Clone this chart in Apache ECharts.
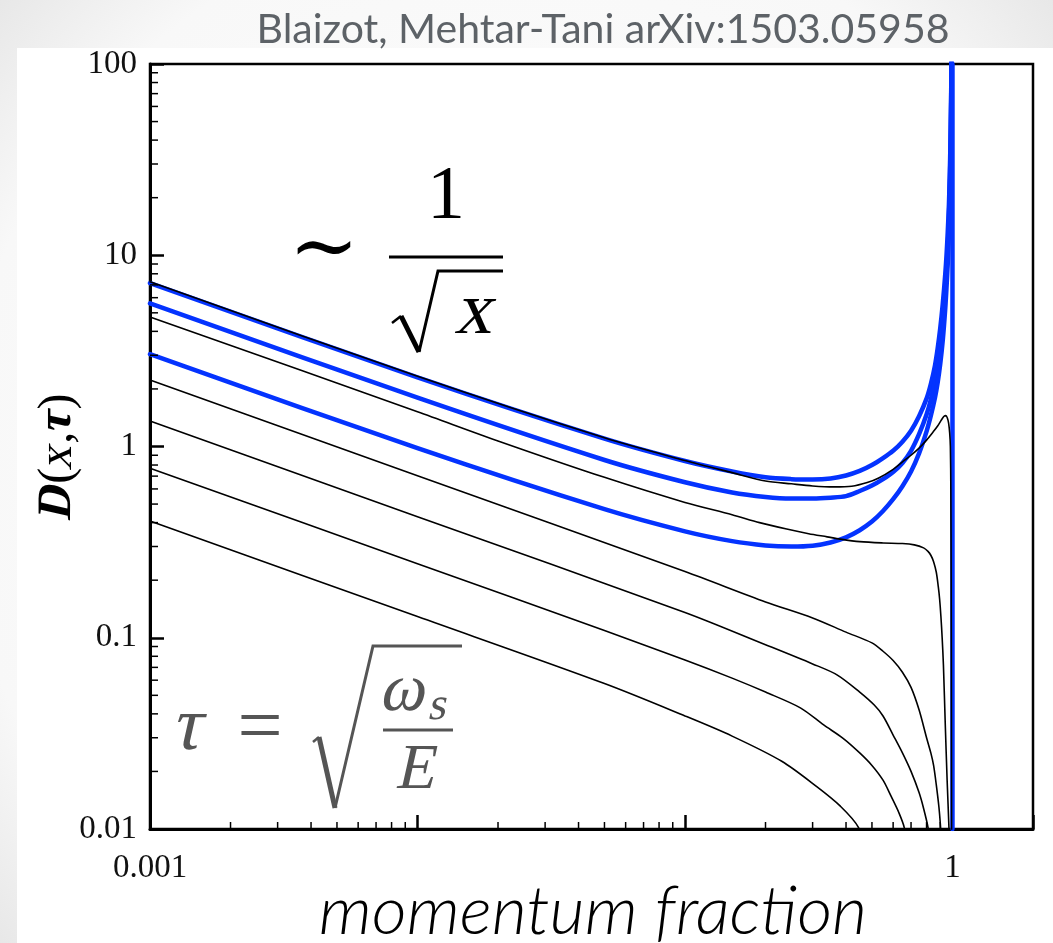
<!DOCTYPE html>
<html>
<head>
<meta charset="utf-8">
<script src="https://cdn.jsdelivr.net/npm/echarts@6/dist/echarts.min.js"></script>
<style>
  html, body { margin: 0; padding: 0; background: #ffffff; }
  #chart { width: 1053px; height: 943px; }
</style>
</head>
<body>
<div id="chart"></div>
<script>
// Fragmentation distributions D(x, tau) versus momentum fraction x.
// Blue curves (thick)
const blueX = [0.001, 0.01, 0.05, 0.1, 0.15, 0.2, 0.25, 0.3, 0.35, 0.4, 0.45, 0.5, 0.55, 0.6, 0.65, 0.7, 0.75, 0.8, 0.83, 0.86, 0.88, 0.9, 0.92, 0.94, 0.95, 0.96, 0.97, 0.975, 0.98, 0.985, 0.99, 0.993, 0.996];
const blue1Y = [7.15, 2.3, 1.1, 0.84, 0.74, 0.69, 0.675, 0.672, 0.68, 0.705, 0.745, 0.8, 0.87, 0.95, 1.06, 1.21, 1.44, 1.78, 2.12, 2.65, 3.25, 4.15, 5.6, 8.0, 10, 13.2, 18.5, 24, 32, 47, 82, 135, 290];
const blue2Y = [5.6, 1.8, 0.85, 0.65, 0.575, 0.545, 0.535, 0.535, 0.54, 0.55, 0.585, 0.625, 0.675, 0.735, 0.82, 0.95, 1.16, 1.47, 1.76, 2.2, 2.62, 3.3, 4.4, 6.4, 8.1, 10.8, 15.8, 20.5, 27.5, 41, 78, 130, 285];
const blue3Y = [3.04, 0.98, 0.47, 0.36, 0.32, 0.304, 0.3, 0.303, 0.315, 0.335, 0.365, 0.405, 0.46, 0.53, 0.62, 0.74, 0.92, 1.2, 1.45, 1.8, 2.15, 2.7, 3.6, 5.3, 6.8, 9.0, 13, 17, 23.5, 36, 70, 120, 260];

// Vertical blue line at x = 1
const spikeX = [1, 1];
const spikeY = [0.01, 100];

// Black curves (thin)
const black1X = [0.001, 0.01, 0.05, 0.1, 0.15, 0.2, 0.25, 0.3, 0.36, 0.42, 0.48, 0.53, 0.6, 0.65, 0.7, 0.75, 0.8, 0.85, 0.88, 0.91, 0.93, 0.945, 0.958, 0.967, 0.976, 0.982, 0.986, 0.989, 0.991, 0.993];
const black1Y = [7.26, 2.33, 1.11, 0.845, 0.73, 0.66, 0.638, 0.622, 0.615, 0.62, 0.648, 0.685, 0.76, 0.83, 0.9, 0.98, 1.08, 1.2, 1.28, 1.38, 1.44, 1.45, 1.4, 1.33, 1.18, 1.0, 0.6, 0.2, 0.04, 0.005];

const black2X = [0.001, 0.01, 0.02, 0.05, 0.1, 0.15, 0.19, 0.24, 0.29, 0.34, 0.38, 0.45, 0.55, 0.65, 0.72, 0.78, 0.81, 0.83, 0.85, 0.87, 0.885, 0.895, 0.905, 0.915, 0.925, 0.94, 0.955, 0.97, 0.985];
const black2Y = [4.76, 1.52, 1.07, 0.69, 0.51, 0.44, 0.4, 0.37, 0.35, 0.337, 0.328, 0.318, 0.313, 0.311, 0.306, 0.295, 0.283, 0.27, 0.25, 0.22, 0.185, 0.16, 0.13, 0.1, 0.072, 0.035, 0.018, 0.0102, 0.005];

const black3X = [0.001, 0.01, 0.1, 0.2, 0.3, 0.4, 0.5, 0.55, 0.6, 0.65, 0.7, 0.75, 0.8, 0.83, 0.85, 0.87, 0.89, 0.9, 0.91, 0.925];
const black3Y = [2.23, 0.703, 0.222, 0.154, 0.127, 0.107, 0.094, 0.085, 0.076, 0.066, 0.055, 0.042, 0.03, 0.025, 0.0215, 0.017, 0.013, 0.0108, 0.0085, 0.005];

const black4X = [0.001, 0.01, 0.1, 0.2, 0.3, 0.37, 0.45, 0.51, 0.55, 0.6, 0.65, 0.7, 0.75, 0.78, 0.81, 0.84];
const black4Y = [1.36, 0.429, 0.1357, 0.092, 0.073, 0.064, 0.052, 0.0445, 0.039, 0.031, 0.025, 0.02, 0.0155, 0.0128, 0.0102, 0.007];

const black5X = [0.001, 0.01, 0.05, 0.1, 0.15, 0.2, 0.27, 0.33, 0.39, 0.45, 0.5, 0.55, 0.59, 0.63, 0.66, 0.69];
const black5Y = [0.77, 0.244, 0.109, 0.0765, 0.0615, 0.052, 0.043, 0.035, 0.0298, 0.025, 0.0215, 0.018, 0.0148, 0.0122, 0.0102, 0.007];

const black6X = [0.001, 0.01, 0.05, 0.1, 0.15, 0.23, 0.31, 0.38, 0.445, 0.48];
const black6Y = [0.408, 0.129, 0.0576, 0.039, 0.0306, 0.0226, 0.0167, 0.0132, 0.0102, 0.007];

// Axis ticks and labels
const xTickValues = [0.001, 1];
const xTickLabels = ['0.001', '1'];
const yTickValues = [0.01, 0.1, 1, 10, 100];
const yTickLabels = ['0.01', '0.1', '1', '10', '100'];
const xMinorDecades = [0.001, 0.01, 0.1];
const yMinorDecades = [0.01, 0.1, 1, 10];

function minorTicks(decades) {
  const out = [];
  decades.forEach(d => { for (let k = 2; k <= 9; k++) out.push(+(k * d).toPrecision(6)); });
  return out;
}
const xMinor = minorTicks(xMinorDecades);
const yMinor = minorTicks(yMinorDecades);

const pairs = (xs, ys) => xs.map((x, i) => [x, ys[i]]);
const near = (a, b) => Math.abs(Math.log10(a) - Math.log10(b)) < 1e-6;
function labelFor(v, values, labels) {
  for (let i = 0; i < values.length; i++) if (near(v, values[i])) return labels[i];
  return '';
}

const BLUE = '#0433ff';
const SERIF = 'Liberation Serif';
const GRAY = '#555555';
const SLANT = -0.22; // slant used for math-italic glyphs

function curve(name, xs, ys, color, width, z) {
  return {
    name, type: 'line', data: pairs(xs, ys), showSymbol: false, symbol: 'none',
    smooth: 0.3, clip: true, z,
    lineStyle: { color, width, cap: 'round', join: 'round' },
    emphasis: { disabled: true }, silent: true
  };
}

function minorTickSeries(data, horizontal) {
  return {
    type: 'custom', silent: true, clip: false, z: 6,
    data,
    renderItem(params, api) {
      const p = api.coord([api.value(0), api.value(1)]);
      const shape = horizontal
        ? { x1: p[0], y1: p[1], x2: p[0], y2: p[1] - 7 }
        : { x1: p[0], y1: p[1], x2: p[0] + 8, y2: p[1] };
      return { type: 'line', shape, style: { stroke: '#000', lineWidth: 1.5 } };
    }
  };
}

// text helper; italic glyphs are slanted upright serif glyphs
function txt(x, y, text, size, opts) {
  opts = opts || {};
  return {
    type: 'text', x, y, rotation: opts.rotation || 0, z: 10,
    skewX: opts.slant ? SLANT : 0,
    style: {
      text, fill: opts.fill || '#000',
      fontFamily: opts.family || SERIF, fontSize: size,
      fontStyle: opts.italic ? 'italic' : 'normal',
      fontWeight: opts.weight || 'normal',
      textAlign: opts.align || 'center', textVerticalAlign: 'middle'
    }
  };
}

function stroke(points, width, color) {
  return { type: 'polyline', z: 10, shape: { points }, style: { stroke: color, lineWidth: width, lineCap: 'butt', lineJoin: 'miter' } };
}

// y axis title D(x,tau), laid out piece by piece along the rotated baseline
const measureCtx = document.createElement('canvas').getContext('2d');
function textWidth(t, size, weight) {
  measureCtx.font = (weight || 'normal') + ' ' + size + 'px ' + SERIF;
  return measureCtx.measureText(t).width;
}
const yTitleParts = [
  { t: 'D', bold: true, slant: true },
  { t: '(' },
  { t: 'x', slant: true },
  { t: ',' },
  { t: 'τ', bold: true, slant: true },
  { t: ')' }
];
const yTitleSize = 48;
const yTitleWidths = yTitleParts.map(p => textWidth(p.t, yTitleSize, p.bold ? 'bold' : 'normal'));
const yTitleTotal = yTitleWidths.reduce((a, b) => a + b, 0);
let cursor = -yTitleTotal / 2;
const yTitleChildren = yTitleParts.map((p, i) => {
  const el = txt(cursor + yTitleWidths[i] / 2, 0, p.t, yTitleSize, { slant: p.slant, weight: p.bold ? 'bold' : 'normal' });
  cursor += yTitleWidths[i];
  return el;
});

const chart = echarts.init(document.getElementById('chart'), null, { renderer: 'canvas' });

const option = {
  animation: false,
  backgroundColor: {
    type: 'radial', x: 0.5, y: 0.5, r: 0.8,
    colorStops: [
      { offset: 0, color: '#ffffff' },
      { offset: 0.75, color: '#f8f8f8' },
      { offset: 1, color: '#e2e2e2' }
    ]
  },
  grid: {
    left: 150, right: 20, top: 64, bottom: 114,
    show: true, borderColor: '#000', borderWidth: 2.5, backgroundColor: 'transparent'
  },
  xAxis: {
    type: 'log', logBase: 10, min: 0.001, max: 2,
    axisLine: { show: true, onZero: false, lineStyle: { color: '#000', width: 3 } },
    axisTick: { show: true, inside: true, length: 14, lineStyle: { color: '#000', width: 2.5 } },
    minorTick: { show: false },
    splitLine: { show: false },
    axisLabel: {
      margin: 23, color: '#111', fontFamily: SERIF, fontSize: 33,
      formatter: v => labelFor(v, xTickValues, xTickLabels)
    }
  },
  yAxis: {
    type: 'log', logBase: 10, min: 0.01, max: 100, splitNumber: 4,
    axisLine: { show: true, onZero: false, lineStyle: { color: '#000', width: 3 } },
    axisTick: { show: true, inside: true, length: 14, lineStyle: { color: '#000', width: 2.5 } },
    splitLine: { show: false },
    axisLabel: {
      margin: 13, color: '#111', fontFamily: SERIF, fontSize: 33,
      formatter: v => labelFor(v, yTickValues, yTickLabels)
    }
  },
  graphic: [
    { type: 'rect', z: -10, shape: { x: 17, y: 48, width: 1036, height: 895 }, style: { fill: '#ffffff' } },
    // header
    txt(603, 30, 'Blaizot, Mehtar-Tani arXiv:1503.05958', 41, { family: 'Lato', fill: '#5d6267' }),
    // y axis title
    { type: 'group', x: 58, y: 456, rotation: Math.PI / 2, children: yTitleChildren },
    // x axis title
    txt(593, 912, 'momentum fraction', 68, { family: 'Lato', italic: true, weight: 300 }),
    // ~ 1/sqrt(x)
    txt(324, 252, '∼', 84, { family: 'DejaVu Serif' }),
    txt(446, 198, '1', 76),
    { type: 'line', z: 10, shape: { x1: 389, y1: 257, x2: 503, y2: 257 }, style: { stroke: '#000', lineWidth: 3 } },
    stroke([[392, 323], [401, 316]], 2.5, '#000'),
    stroke([[401, 316], [419, 352]], 5, '#000'),
    stroke([[419, 352], [438, 271], [503, 271]], 3, '#000'),
    txt(477, 314, 'x', 74, { slant: true }),
    // tau = sqrt(omega_s / E)
    txt(190, 729, 'τ', 76, { slant: true, fill: GRAY }),
    txt(260, 731, '=', 80, { fill: GRAY }),
    stroke([[313, 742], [319, 737]], 2.5, GRAY),
    stroke([[319, 737], [335, 808]], 5, GRAY),
    stroke([[335, 808], [373, 646], [462, 646]], 3, GRAY),
    txt(405, 692, 'ω', 68, { slant: true, fill: GRAY }),
    txt(439, 707, 's', 46, { slant: true, fill: GRAY }),
    { type: 'line', z: 10, shape: { x1: 383, y1: 730, x2: 453, y2: 730 }, style: { stroke: GRAY, lineWidth: 3 } },
    txt(418, 771, 'E', 64, { slant: true, fill: GRAY })
  ],
  series: [
    curve('blue1', blueX, blue1Y, BLUE, 4.5, 3),
    curve('blue2', blueX, blue2Y, BLUE, 4.5, 3),
    curve('blue3', blueX, blue3Y, BLUE, 4.5, 3),
    curve('spike', spikeX, spikeY, BLUE, 4.5, 3),
    curve('black1', black1X, black1Y, '#000', 1.6, 4),
    curve('black2', black2X, black2Y, '#000', 1.6, 4),
    curve('black3', black3X, black3Y, '#000', 1.6, 4),
    curve('black4', black4X, black4Y, '#000', 1.6, 4),
    curve('black5', black5X, black5Y, '#000', 1.6, 4),
    curve('black6', black6X, black6Y, '#000', 1.6, 4),
    minorTickSeries(xMinor.map(v => [v, 0.01]), true),
    minorTickSeries(yMinor.map(v => [0.001, v]), false)
  ]
};

chart.setOption(option);
</script>
</body>
</html>
